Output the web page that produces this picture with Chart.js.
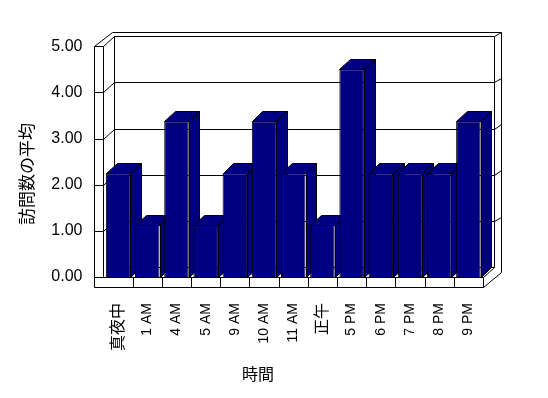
<!DOCTYPE html>
<html>
<head>
<meta charset="utf-8">
<script src="https://cdn.jsdelivr.net/npm/chart.js@4/dist/chart.umd.min.js"></script>
<style>
  html, body { margin: 0; padding: 0; background: #fff; }
  #wrap { width: 548px; height: 398px; }
</style>
</head>
<body>
<div id="wrap"><canvas id="chart"></canvas></div>
<script>
// data
const HOURS = ['真夜中', '1 AM', '4 AM', '5 AM', '9 AM', '10 AM', '11 AM', '正午', '5 PM', '6 PM', '7 PM', '8 PM', '9 PM'];
const AVG_VISITS = [2.25, 1.125, 3.375, 1.125, 2.25, 3.375, 2.25, 1.125, 4.5, 2.25, 2.25, 2.25, 3.375];
const Y_MIN = 0;
const Y_MAX = 5;
const Y_STEP = 1;
const Y_TITLE = '訪問数の平均';
const X_TITLE = '時間';

const FONT = "'Liberation Sans', 'Noto Sans CJK JP', sans-serif";
const NAVY = '#000080';
const DX = 10.7, DY = -10;   // depth of the 3D box

function px(v) { return Math.round(v) + 0.5; }

function line(ctx, x1, y1, x2, y2) {
    ctx.beginPath();
    ctx.moveTo(px(x1), px(y1));
    ctx.lineTo(px(x2), px(y2));
    ctx.stroke();
}

function poly(ctx, pts, fill) {
    ctx.beginPath();
    pts.forEach((p, i) => i ? ctx.lineTo(px(p[0]), px(p[1])) : ctx.moveTo(px(p[0]), px(p[1])));
    ctx.closePath();
    ctx.fillStyle = fill;
    ctx.fill();
    ctx.stroke();
}

// walls, floor and the side/top faces of the bars
const box3d = {
    id: 'box3d',
    beforeDatasetsDraw(chart) {
        const ctx = chart.ctx;
        const a = chart.chartArea;
        const ys = chart.scales.y;
        const xs = chart.scales.x;
        const L = a.left, R = a.right;
        const B = ys.getPixelForValue(Y_MIN), T = ys.getPixelForValue(Y_MAX);
        const sL = L - 9.5, sI = L - 1;          // left wall front strip
        const bL = L + DX, bR = R + DX;          // back wall
        const oR = bR + 7.5, oT = T + DY - 4.3;  // outer edge of the walls
        const fB = B + 9.5;                      // floor bottom

        ctx.save();
        ctx.lineWidth = 1;
        ctx.strokeStyle = '#000';

        poly(ctx, [[sL, T], [bL - 2, oT], [oR, oT], [oR, B + DY + 5], [R, fB], [sL, fB]], '#fff');

        line(ctx, sL, T, sI, T);
        line(ctx, sI, T, sI, B);
        line(ctx, sI, T, bL, T + DY);
        line(ctx, bL, T + DY, bR, T + DY);
        line(ctx, bR, T + DY, oR, oT);
        line(ctx, bL, T + DY, bL, B + DY);
        line(ctx, bR, T + DY, bR, B + DY);
        line(ctx, bL, B + DY, bR, B + DY);
        line(ctx, sL, B, R, B);
        line(ctx, R, B, R, fB);
        line(ctx, R, B, bR, B + DY);

        for (let v = Y_MIN + Y_STEP; v < Y_MAX; v += Y_STEP) {
            const y = ys.getPixelForValue(v);
            line(ctx, sL, y, sI, y);
            line(ctx, sI, y, bL, y + DY);
            line(ctx, bL, y + DY, bR, y + DY);
            line(ctx, bR, y + DY, oR, y + DY - 4.3);
        }

        // category dividers on the floor front
        const n = HOURS.length;
        for (let i = 1; i < n; i++) {
            const x = (xs.getPixelForValue(i - 1) + xs.getPixelForValue(i)) / 2;
            line(ctx, x, B, x, fB);
        }

        // bar sides and tops, left to right
        chart.getDatasetMeta(0).data.forEach(bar => {
            const p = bar.getProps(['x', 'y', 'width', 'base'], true);
            const l = p.x - p.width / 2, r = p.x + p.width / 2;
            poly(ctx, [[r, p.y], [r + DX, p.y + DY], [r + DX, p.base + DY], [r, p.base]], NAVY);
            poly(ctx, [[l, p.y], [l + DX, p.y + DY], [r + DX, p.y + DY], [r, p.y]], NAVY);
        });
        ctx.restore();
    },
    afterDraw(chart) {
        const ctx = chart.ctx;
        ctx.save();
        ctx.fillStyle = '#000';
        ctx.textAlign = 'center';
        ctx.textBaseline = 'middle';
        ctx.font = '16px ' + FONT;
        ctx.fillText(X_TITLE, 258, 376);
        ctx.translate(28, 174);
        ctx.rotate(-Math.PI / 2);
        ctx.font = '17px ' + FONT;
        ctx.fillText(Y_TITLE, 0, 0);
        ctx.restore();
    }
};

new Chart(document.getElementById('chart'), {
    type: 'bar',
    data: {
        labels: HOURS,
        datasets: [{
            data: AVG_VISITS,
            backgroundColor: NAVY,
            borderColor: '#000',
            borderWidth: 1,
            barPercentage: 0.84,
            categoryPercentage: 1
        }]
    },
    options: {
        responsive: true,
        maintainAspectRatio: false,
        animation: false,
        layout: { padding: { left: 43.5, top: 46.2, right: 65, bottom: 0 } },
        plugins: { legend: { display: false }, tooltip: { enabled: false } },
        scales: {
            x: {
                grid: { display: false, drawTicks: false },
                border: { display: false },
                afterFit: s => { s.height = 121; },
                ticks: {
                    autoSkip: false,
                    maxRotation: 90,
                    minRotation: 90,
                    padding: 26,
                    color: '#000',
                    font: c => ({ family: FONT, size: /[A-Z]/.test(HOURS[c.index]) ? 14 : 16 })
                }
            },
            y: {
                min: Y_MIN,
                max: Y_MAX,
                grid: { display: false, drawTicks: false },
                border: { display: false },
                afterFit: s => { s.width = 60; },
                ticks: {
                    stepSize: Y_STEP,
                    padding: 21,
                    color: '#000',
                    font: { family: FONT, size: 16 },
                    callback: v => Number(v).toFixed(2)
                }
            }
        }
    },
    plugins: [box3d]
});
</script>
</body>
</html>
